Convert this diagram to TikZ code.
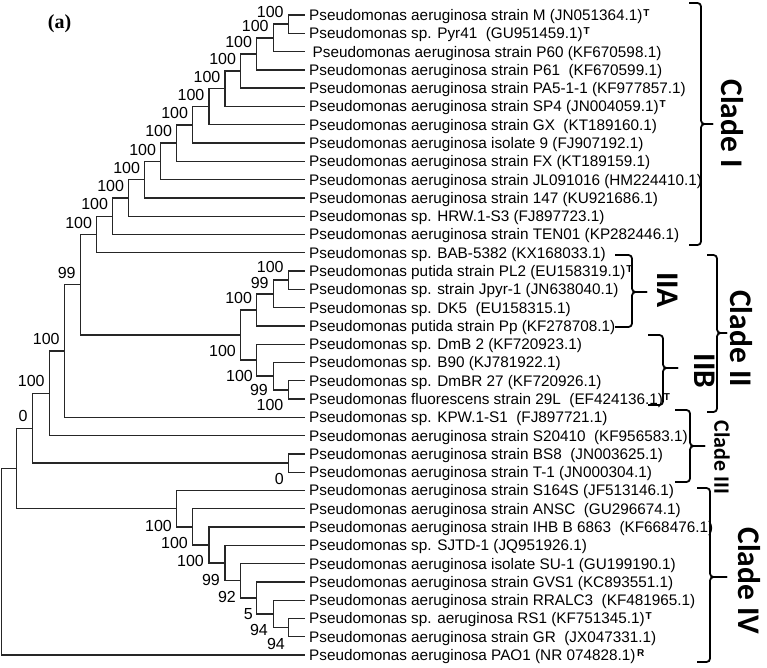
\documentclass[tikz,border=0pt]{standalone}
\usepackage{fontspec}
\setmainfont{Liberation Sans}
\newfontfamily\cladefont{Carlito}
\newfontfamily\tagfont{Liberation Serif}

% type-strain and reference marks after an accession
\newcommand{\supT}{\kern0.8pt\raisebox{4pt}{\fontsize{10}{10}\selectfont\bfseries T}}
\newcommand{\supR}{\kern1.5pt\raisebox{4pt}{\fontsize{10}{10}\selectfont\bfseries R}}

\tikzset{
  branch/.style={line width=1.3pt, draw=black!85},
  leaf/.style={anchor=west, inner sep=0pt, inner xsep=4pt, font=\fontsize{15.3}{18}\selectfont, text height=11pt, text depth=0pt},
  boot/.style={anchor=east, inner sep=0pt, font=\fontsize{16}{18}\selectfont, text height=11.4pt, text depth=0pt},
  cladebrace/.style={line width=1.8pt, rounded corners=3.5pt},
  cladename/.style={rotate=-90, inner sep=0pt, font=\cladefont\bfseries\fontsize{31.5}{34}\selectfont},
}

\begin{document}
\begin{tikzpicture}[x=1pt, y=-1pt]
  \useasboundingbox (0,0) rectangle (767,667);

  % leaves, top to bottom
  \foreach \lab [count=\i] in {
      {Pseudomonas aeruginosa strain M (JN051364.1)\supT},
      {Pseudomonas sp. Pyr41~ (GU951459.1)\supT},
      {\hspace{3.5pt}Pseudomonas aeruginosa strain P60 (KF670598.1)},
      {Pseudomonas aeruginosa strain P61~ (KF670599.1)},
      {Pseudomonas aeruginosa strain PA5-1-1 (KF977857.1)},
      {Pseudomonas aeruginosa strain SP4 (JN004059.1)\supT},
      {Pseudomonas aeruginosa strain GX~ (KT189160.1)},
      {Pseudomonas aeruginosa isolate 9 (FJ907192.1)},
      {Pseudomonas aeruginosa strain FX (KT189159.1)},
      {Pseudomonas aeruginosa strain JL091016 (HM224410.1)},
      {Pseudomonas aeruginosa strain 147 (KU921686.1)},
      {Pseudomonas sp. HRW.1-S3 (FJ897723.1)},
      {Pseudomonas aeruginosa strain TEN01 (KP282446.1)},
      {Pseudomonas sp. BAB-5382 (KX168033.1)},
      {Pseudomonas putida strain PL2 (EU158319.1)\supT},
      {Pseudomonas sp. strain Jpyr-1 (JN638040.1)},
      {Pseudomonas sp. DK5~ (EU158315.1)},
      {Pseudomonas putida strain Pp (KF278708.1)},
      {Pseudomonas sp. DmB 2 (KF720923.1)},
      {Pseudomonas sp. B90 (KJ781922.1)},
      {Pseudomonas sp. DmBR 27 (KF720926.1)},
      {Pseudomonas fluorescens strain 29L~ (EF424136.1)\supT},
      {Pseudomonas sp. KPW.1-S1~ (FJ897721.1)},
      {Pseudomonas aeruginosa strain S20410~ (KF956583.1)},
      {Pseudomonas aeruginosa strain BS8~ (JN003625.1)},
      {Pseudomonas aeruginosa strain T-1 (JN000304.1)},
      {Pseudomonas aeruginosa strain S164S (JF513146.1)},
      {Pseudomonas aeruginosa strain ANSC~ (GU296674.1)},
      {Pseudomonas aeruginosa strain IHB B 6863~ (KF668476.1)},
      {Pseudomonas sp. SJTD-1 (JQ951926.1)},
      {Pseudomonas aeruginosa isolate SU-1 (GU199190.1)},
      {Pseudomonas aeruginosa strain GVS1 (KC893551.1)},
      {Pseudomonas aeruginosa strain RRALC3~ (KF481965.1)},
      {Pseudomonas sp. aeruginosa RS1 (KF751345.1)\supT},
      {Pseudomonas aeruginosa strain GR~ (JX047331.1)},
      {Pseudomonas aeruginosa PAO1 (NR 074828.1)\supR}} {
    \node[leaf] (L\i) at (305, {15+18.286*(\i-1)}) {\lab};
  }

  % clade I
  \coordinate (i1) at (288.3, 24.14);
  \coordinate (i2) at (273.3, 37.86);
  \coordinate (i3) at (256.7, 53.86);
  \coordinate (i4) at (240.7, 71.0);
  \coordinate (i5) at (225.0, 88.71);
  \coordinate (i6) at (209.0, 106.71);
  \coordinate (i7) at (192.7, 124.86);
  \coordinate (i8) at (176.7, 143.07);
  \coordinate (i9) at (160.7, 161.32);
  \coordinate (i10) at (144.7, 179.59);
  \coordinate (i11) at (128.7, 197.87);
  \coordinate (i12) at (112.7, 216.15);
  \coordinate (i13) at (96.7, 234.43);
  % clade II
  \coordinate (a1) at (288.3, 280.14);
  \coordinate (a2) at (273.3, 293.86);
  \coordinate (a3) at (256.7, 309.86);
  \coordinate (b1) at (288.3, 389.86);
  \coordinate (b2) at (273.3, 376.14);
  \coordinate (b3) at (256.7, 360.14);
  \coordinate (cII) at (240.7, 335.0);
  % backbone and clade III
  \coordinate (g1) at (80.3, 284.71);
  \coordinate (g2) at (64.3, 351.0);
  \coordinate (g3) at (49.3, 393.29);
  \coordinate (cIII) at (288.3, 463.0);
  \coordinate (g4) at (32.3, 428.14);
  % clade IV
  \coordinate (d1) at (288.3, 627.57);
  \coordinate (d2) at (273.3, 613.86);
  \coordinate (d3) at (256.7, 597.86);
  \coordinate (d4) at (240.7, 580.71);
  \coordinate (d5) at (225.0, 563.0);
  \coordinate (d6) at (209.0, 545.0);
  \coordinate (d7) at (192.7, 526.86);
  \coordinate (d8) at (176.7, 508.64);
  \coordinate (g5) at (16.7, 468.39);
  \coordinate (root) at (1.5, 561.7);

  % branches
  \foreach \p/\c in {i1/L1.west, i1/L2.west, i2/i1, i2/L3.west, i3/i2, i3/L4.west,
      i4/i3, i4/L5.west, i5/i4, i5/L6.west, i6/i5, i6/L7.west, i7/i6, i7/L8.west,
      i8/i7, i8/L9.west, i9/i8, i9/L10.west, i10/i9, i10/L11.west, i11/i10, i11/L12.west,
      i12/i11, i12/L13.west, i13/i12, i13/L14.west,
      a1/L15.west, a1/L16.west, a2/a1, a2/L17.west, a3/a2, a3/L18.west,
      b1/L21.west, b1/L22.west, b2/L20.west, b2/b1, b3/L19.west, b3/b2, cII/a3, cII/b3,
      g1/i13, g1/cII, g2/g1, g2/L23.west, g3/g2, g3/L24.west,
      cIII/L25.west, cIII/L26.west, g4/g3, g4/cIII,
      d1/L34.west, d1/L35.west, d2/L33.west, d2/d1, d3/L32.west, d3/d2,
      d4/L31.west, d4/d3, d5/L30.west, d5/d4, d6/L29.west, d6/d5,
      d7/L28.west, d7/d6, d8/L27.west, d8/d7,
      g5/g4, g5/d8, root/g5, root/L36.west} {
    \draw[branch] (\p) |- (\c);
  }

  % bootstrap values above the nodes
  \foreach \n/\v in {i1/100, i2/100, i3/100, i4/100, i5/100, i6/100, i7/100, i8/100,
      i9/100, i10/100, i11/100, i12/100, i13/100, a3/100,
      g1/99, g2/100, g3/100, g4/0} {
    \node[boot, xshift=-4.5pt, yshift=12pt] at (\n) {\v};
  }
  \node[boot, xshift=-4.5pt, yshift=13pt] at (a1) {100};
  \node[boot, xshift=-4.5pt, yshift=11.5pt] at (a2) {99};
  % bootstrap values below the nodes
  \node[boot] (bII) at (236, 351) {100};
  \node[boot] (bb3) at (253, 375.5) {100};
  \node[boot] (bb2) at (268, 390) {99};
  \node[boot] (bb1) at (283.5, 405) {100};
  \node[boot] (bIII) at (284, 479) {0};
  \node[boot] (bd8) at (172, 525.5) {100};
  \node[boot] (bd7) at (188, 543) {100};
  \node[boot] (bd6) at (204, 561) {100};
  \node[boot] (bd5) at (220, 579.5) {99};
  \node[boot] (bd4) at (236, 597) {92};
  \node[boot] (bd3) at (253, 614) {5};
  \node[boot] (bd2) at (268, 630) {94};
  \node[boot] (bd1) at (285, 643.5) {94};

  % clade braces: start x / spine x / tip x / top / bottom / tip y
  \foreach \xa/\xs/\xt/\ya/\yb/\ym in {689/701/713/3/245/124, 707/717/727/255/412/333,
      615/632/647/255/327/292, 648/663/678/335/405/368,
      675/690/705/410/482/446, 697/710/727/488/662/577} {
    \draw[cladebrace] (\xa,\ya) -| (\xs,\ym) -- (\xt,\ym);
    \draw[cladebrace] (\xt,\ym) -- (\xs,\ym) |- (\xa,\yb);
  }

  \node[cladename] (cladeI) at (732, 123.5) {Clade I};
  \node[cladename] (cladeII) at (741, 338.5) {Clade II};
  \node[cladename] (subA) at (667.5, 290) {IIA};
  \node[cladename] (subB) at (705, 371) {IIB};
  \node[cladename, font=\cladefont\bfseries\fontsize{22}{24}\selectfont] (cladeIII) at (722, 457.5) {Clade III};
  \node[cladename] (cladeIV) at (749, 581) {Clade IV};

  \node[font=\tagfont\bfseries\fontsize{20}{22}\selectfont, inner sep=0pt] (tag) at (59.5, 24) {(a)};
\end{tikzpicture}
\end{document}
